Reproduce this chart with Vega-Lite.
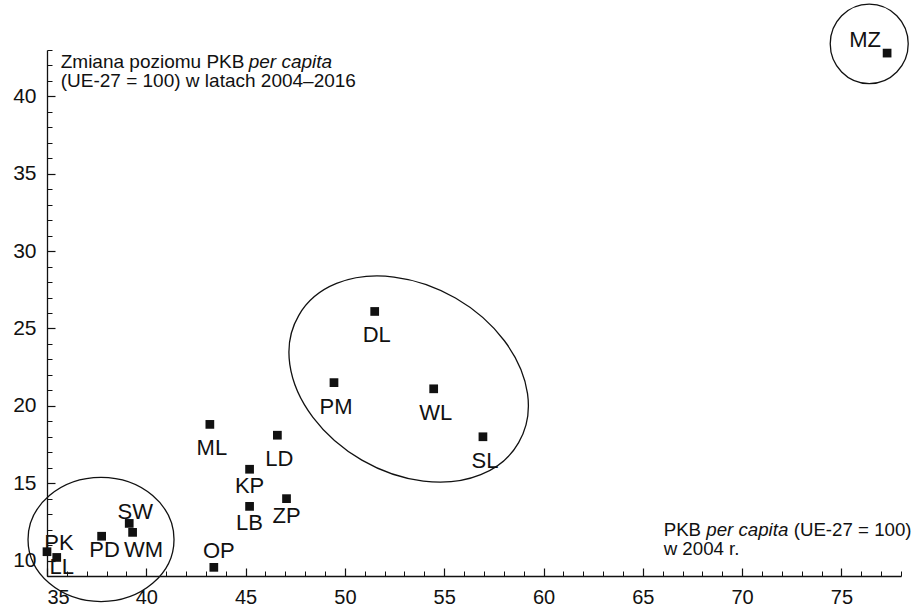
{
  "$schema": "https://vega.github.io/schema/vega-lite/v6.json",
  "width": 854,
  "height": 526,
  "autosize": {"type": "none"},
  "padding": {"left": 47, "top": 50, "right": 15, "bottom": 32},
  "background": "white",
  "config": {
    "view": {"stroke": null},
    "font": "Liberation Sans",
    "axis": {"labelFont": "Liberation Sans", "grid": false}
  },
  "datasets": {
    "regions": [
      {"code": "MZ", "pkb_2004": 77.3, "zmiana": 42.8},
      {"code": "DL", "pkb_2004": 51.5, "zmiana": 26.1},
      {"code": "PM", "pkb_2004": 49.45, "zmiana": 21.5},
      {"code": "WL", "pkb_2004": 54.47, "zmiana": 21.1},
      {"code": "SL", "pkb_2004": 56.95, "zmiana": 18.0},
      {"code": "ML", "pkb_2004": 43.2, "zmiana": 18.8},
      {"code": "LD", "pkb_2004": 46.6, "zmiana": 18.1},
      {"code": "KP", "pkb_2004": 45.2, "zmiana": 15.9},
      {"code": "LB", "pkb_2004": 45.2, "zmiana": 13.5},
      {"code": "ZP", "pkb_2004": 47.06, "zmiana": 14.0},
      {"code": "OP", "pkb_2004": 43.4, "zmiana": 9.56},
      {"code": "PK", "pkb_2004": 35.0, "zmiana": 10.57},
      {"code": "LL", "pkb_2004": 35.49, "zmiana": 10.2},
      {"code": "PD", "pkb_2004": 37.75, "zmiana": 11.57},
      {"code": "SW", "pkb_2004": 39.14, "zmiana": 12.4},
      {"code": "WM", "pkb_2004": 39.31, "zmiana": 11.82}
    ],
    "clusters": [
      {"cluster": "low", "pkb_2004": 37.72, "zmiana": 11.36},
      {"cluster": "mid", "pkb_2004": 53.21, "zmiana": 21.73},
      {"cluster": "top", "pkb_2004": 76.4, "zmiana": 43.4}
    ]
  },
  "layer": [
    {
      "data": {"name": "regions"},
      "mark": {"type": "point", "shape": "square", "filled": true, "size": 76, "color": "#111111", "opacity": 1},
      "encoding": {
        "x": {"field": "pkb_2004", "type": "quantitative",
          "scale": {"domain": [35, 78], "nice": false, "zero": false},
          "axis": {"orient": "bottom", "values": [35,36,37,38,39,40,41,42,43,44,45,46,47,48,49,50,51,52,53,54,55,56,57,58,59,60,61,62,63,64,65,66,67,68,69,70,71,72,73,74,75,76,77,78],
            "labels": false, "domain": false, "tickSize": -5, "tickColor": "#111111", "tickWidth": 1, "title": null}},
        "y": {"field": "zmiana", "type": "quantitative",
          "scale": {"domain": [9, 43], "nice": false, "zero": false},
          "axis": {"orient": "left", "values": [9,10,11,12,13,14,15,16,17,18,19,20,21,22,23,24,25,26,27,28,29,30,31,32,33,34,35,36,37,38,39,40,41,42,43],
            "labels": false, "domain": false, "tickSize": -5, "tickColor": "#111111", "tickWidth": 1, "title": null}}
      }
    },
    {
      "data": {"name": "clusters"},
      "transform": [{"filter": {"field": "cluster", "equal": "low"}}],
      "mark": {"type": "point", "shape": "M-1,0A1,0.85,0,1,1,1,0A1,0.85,0,1,1,-1,0Z", "size": 21316, "filled": false, "stroke": "#111111", "strokeWidth": 1.3, "opacity": 1},
      "encoding": {
        "x": {"field": "pkb_2004", "type": "quantitative",
          "scale": {"domain": [35, 78], "nice": false, "zero": false},
          "axis": {"orient": "bottom", "values": [35,40,45,50,55,60,65,70,75], "tickSize": -8, "tickColor": "#111111", "tickWidth": 1.2,
            "domainColor": "#111111", "domainWidth": 1.3, "labelFontSize": 20, "labelColor": "#111111", "labelPadding": 19, "labelFlush": true, "title": null}},
        "y": {"field": "zmiana", "type": "quantitative",
          "scale": {"domain": [9, 43], "nice": false, "zero": false},
          "axis": {"orient": "left", "values": [10,15,20,25,30,35,40], "tickSize": -8, "tickColor": "#111111", "tickWidth": 1.2,
            "domainColor": "#111111", "domainWidth": 1.3, "labelFontSize": 21, "labelColor": "#111111", "labelPadding": 19, "title": null}}
      }
    },
    {
      "data": {"name": "clusters"},
      "transform": [{"filter": {"field": "cluster", "equal": "mid"}}],
      "mark": {"type": "point", "shape": "M-0.866,-0.5A1,0.732,30,1,1,0.866,0.5A1,0.732,30,1,1,-0.866,-0.5Z", "size": 64516, "filled": false, "stroke": "#111111", "strokeWidth": 1.3, "opacity": 1},
      "encoding": {
        "x": {"field": "pkb_2004", "type": "quantitative", "axis": null},
        "y": {"field": "zmiana", "type": "quantitative", "axis": null}
      }
    },
    {
      "data": {"name": "clusters"},
      "transform": [{"filter": {"field": "cluster", "equal": "top"}}],
      "mark": {"type": "point", "shape": "M-1,0A1,1.02,0,1,1,1,0A1,1.02,0,1,1,-1,0Z", "size": 6084, "filled": false, "stroke": "#111111", "strokeWidth": 1.3, "opacity": 1},
      "encoding": {
        "x": {"field": "pkb_2004", "type": "quantitative", "axis": null},
        "y": {"field": "zmiana", "type": "quantitative", "axis": null}
      }
    },
    {
      "data": {"name": "regions"},
      "transform": [{"filter": {"field": "code", "oneOf": ["DL", "PM", "WL", "SL", "ML", "LD"]}}],
      "mark": {"type": "text", "fontSize": 22, "font": "Liberation Sans", "color": "#111111", "align": "center", "baseline": "middle", "dx": 2, "dy": 24},
      "encoding": {"x": {"field": "pkb_2004", "type": "quantitative", "axis": null}, "y": {"field": "zmiana", "type": "quantitative", "axis": null}, "text": {"field": "code"}}
    },
    {
      "data": {"name": "regions"},
      "transform": [{"filter": {"field": "code", "oneOf": ["KP", "LB", "ZP"]}}],
      "mark": {"type": "text", "fontSize": 22, "font": "Liberation Sans", "color": "#111111", "align": "center", "baseline": "middle", "dx": 0, "dy": 17},
      "encoding": {"x": {"field": "pkb_2004", "type": "quantitative", "axis": null}, "y": {"field": "zmiana", "type": "quantitative", "axis": null}, "text": {"field": "code"}}
    },
    {
      "data": {"name": "regions"},
      "transform": [{"filter": {"field": "code", "equal": "OP"}}],
      "mark": {"type": "text", "fontSize": 22, "font": "Liberation Sans", "color": "#111111", "align": "center", "baseline": "middle", "dx": 5, "dy": -16},
      "encoding": {"x": {"field": "pkb_2004", "type": "quantitative", "axis": null}, "y": {"field": "zmiana", "type": "quantitative", "axis": null}, "text": {"field": "code"}}
    },
    {
      "data": {"name": "regions"},
      "transform": [{"filter": {"field": "code", "equal": "PK"}}],
      "mark": {"type": "text", "fontSize": 22, "font": "Liberation Sans", "color": "#111111", "align": "center", "baseline": "middle", "dx": 12, "dy": -9},
      "encoding": {"x": {"field": "pkb_2004", "type": "quantitative", "axis": null}, "y": {"field": "zmiana", "type": "quantitative", "axis": null}, "text": {"field": "code"}}
    },
    {
      "data": {"name": "regions"},
      "transform": [{"filter": {"field": "code", "equal": "LL"}}],
      "mark": {"type": "text", "fontSize": 22, "font": "Liberation Sans", "color": "#111111", "align": "center", "baseline": "middle", "dx": 5, "dy": 10},
      "encoding": {"x": {"field": "pkb_2004", "type": "quantitative", "axis": null}, "y": {"field": "zmiana", "type": "quantitative", "axis": null}, "text": {"field": "code"}}
    },
    {
      "data": {"name": "regions"},
      "transform": [{"filter": {"field": "code", "equal": "PD"}}],
      "mark": {"type": "text", "fontSize": 22, "font": "Liberation Sans", "color": "#111111", "align": "center", "baseline": "middle", "dx": 3, "dy": 14},
      "encoding": {"x": {"field": "pkb_2004", "type": "quantitative", "axis": null}, "y": {"field": "zmiana", "type": "quantitative", "axis": null}, "text": {"field": "code"}}
    },
    {
      "data": {"name": "regions"},
      "transform": [{"filter": {"field": "code", "equal": "SW"}}],
      "mark": {"type": "text", "fontSize": 22, "font": "Liberation Sans", "color": "#111111", "align": "center", "baseline": "middle", "dx": 6, "dy": -11},
      "encoding": {"x": {"field": "pkb_2004", "type": "quantitative", "axis": null}, "y": {"field": "zmiana", "type": "quantitative", "axis": null}, "text": {"field": "code"}}
    },
    {
      "data": {"name": "regions"},
      "transform": [{"filter": {"field": "code", "equal": "WM"}}],
      "mark": {"type": "text", "fontSize": 22, "font": "Liberation Sans", "color": "#111111", "align": "center", "baseline": "middle", "dx": 11, "dy": 18},
      "encoding": {"x": {"field": "pkb_2004", "type": "quantitative", "axis": null}, "y": {"field": "zmiana", "type": "quantitative", "axis": null}, "text": {"field": "code"}}
    },
    {
      "data": {"name": "regions"},
      "transform": [{"filter": {"field": "code", "equal": "MZ"}}],
      "mark": {"type": "text", "fontSize": 22, "font": "Liberation Sans", "color": "#111111", "align": "center", "baseline": "middle", "dx": -22, "dy": -13},
      "encoding": {"x": {"field": "pkb_2004", "type": "quantitative", "axis": null}, "y": {"field": "zmiana", "type": "quantitative", "axis": null}, "text": {"field": "code"}}
    },
    {
      "data": {"values": [{"label": "Zmiana poziomu PKB", "x": 35.69, "y": 42.23}]},
      "mark": {"type": "text", "fontSize": 19, "font": "Liberation Sans", "color": "#111111", "align": "left", "baseline": "middle"},
      "encoding": {"x": {"field": "x", "type": "quantitative", "axis": null}, "y": {"field": "y", "type": "quantitative", "axis": null}, "text": {"field": "label"}}
    },
    {
      "data": {"values": [{"label": "per capita", "x": 35.69, "y": 42.23}]},
      "mark": {"type": "text", "fontSize": 19, "font": "Liberation Sans", "fontStyle": "italic", "color": "#111111", "align": "left", "baseline": "middle", "dx": 188},
      "encoding": {"x": {"field": "x", "type": "quantitative", "axis": null}, "y": {"field": "y", "type": "quantitative", "axis": null}, "text": {"field": "label"}}
    },
    {
      "data": {"values": [{"label": "(UE-27 = 100) w latach 2004–2016", "x": 35.69, "y": 41.0}]},
      "mark": {"type": "text", "fontSize": 19, "font": "Liberation Sans", "color": "#111111", "align": "left", "baseline": "middle"},
      "encoding": {"x": {"field": "x", "type": "quantitative", "axis": null}, "y": {"field": "y", "type": "quantitative", "axis": null}, "text": {"field": "label"}}
    },
    {
      "data": {"values": [{"label": "PKB", "x": 66.05, "y": 11.97}]},
      "mark": {"type": "text", "fontSize": 18.7, "font": "Liberation Sans", "color": "#111111", "align": "left", "baseline": "middle"},
      "encoding": {"x": {"field": "x", "type": "quantitative", "axis": null}, "y": {"field": "y", "type": "quantitative", "axis": null}, "text": {"field": "label"}}
    },
    {
      "data": {"values": [{"label": "per capita", "x": 66.05, "y": 11.97}]},
      "mark": {"type": "text", "fontSize": 18.7, "font": "Liberation Sans", "fontStyle": "italic", "color": "#111111", "align": "left", "baseline": "middle", "dx": 42.6},
      "encoding": {"x": {"field": "x", "type": "quantitative", "axis": null}, "y": {"field": "y", "type": "quantitative", "axis": null}, "text": {"field": "label"}}
    },
    {
      "data": {"values": [{"label": "(UE-27 = 100)", "x": 66.05, "y": 11.97}]},
      "mark": {"type": "text", "fontSize": 18.7, "font": "Liberation Sans", "color": "#111111", "align": "left", "baseline": "middle", "dx": 130},
      "encoding": {"x": {"field": "x", "type": "quantitative", "axis": null}, "y": {"field": "y", "type": "quantitative", "axis": null}, "text": {"field": "label"}}
    },
    {
      "data": {"values": [{"label": "w 2004 r.", "x": 66.05, "y": 10.72}]},
      "mark": {"type": "text", "fontSize": 18.7, "font": "Liberation Sans", "color": "#111111", "align": "left", "baseline": "middle"},
      "encoding": {"x": {"field": "x", "type": "quantitative", "axis": null}, "y": {"field": "y", "type": "quantitative", "axis": null}, "text": {"field": "label"}}
    }
  ],
  "resolve": {"scale": {"x": "shared", "y": "shared"}, "axis": {"x": "independent", "y": "independent"}}
}
